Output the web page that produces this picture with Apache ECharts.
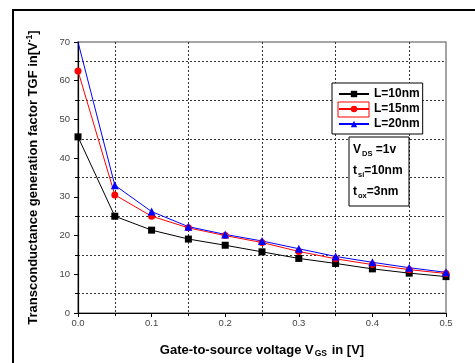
<!DOCTYPE html>
<html><head><meta charset="utf-8">
<script src="https://cdn.jsdelivr.net/npm/echarts@6/dist/echarts.min.js"></script>
<style>html,body{margin:0;padding:0;background:#fff;overflow:hidden}#c{width:475px;height:363px}</style>
</head><body><div id="c"></div>
<script>
const vgs = [0.0, 0.05, 0.1, 0.15, 0.2, 0.25, 0.3, 0.35, 0.4, 0.45, 0.5];
const tgf10 = [45.5, 25.0, 21.4, 19.1, 17.5, 15.8, 14.1, 12.8, 11.4, 10.3, 9.4];
const tgf15 = [62.5, 30.5, 25.0, 22.0, 20.0, 18.2, 15.9, 14.0, 12.5, 11.2, 10.2];
const tgf20 = [70.0, 33.0, 26.2, 22.3, 20.3, 18.6, 16.6, 14.6, 13.1, 11.7, 10.5];
const seriesNames = ['L=10nm', 'L=15nm', 'L=20nm'];

const F = 'Liberation Sans, Arial, sans-serif';
const chart = echarts.init(document.getElementById('c'));
const pair = arr => vgs.map((x, i) => (x === 0 && arr[i] >= 70) ? { value: [x, arr[i]], symbol: 'none' } : [x, arr[i]]);
const mk = (name, data, color, symbol, size) => ({
  name, type: 'line', data: pair(data), symbol, symbolSize: size,
  lineStyle: { color, width: 1 }, itemStyle: { color }, z: 3
});
chart.setOption({
  animation: false,
  grid: { left: 78, right: 29, top: 42, bottom: 50, show: true, borderColor: '#888', borderWidth: 1.5 },
  xAxis: {
    type: 'value', min: 0, max: 0.5, interval: 0.1,
    name: '{b|Gate-to-source voltage V}{s|GS}{b| in [V]}',
    nameLocation: 'middle', nameGap: 29,
    nameTextStyle: { rich: {
      b: { fontFamily: F, fontWeight: 'bold', fontSize: 13, color: '#000' },
      s: { fontFamily: F, fontWeight: 'bold', fontSize: 8.5, color: '#000', padding: [7, 1, 0, 1] }
    } },
    axisLine: { show: true, lineStyle: { color: '#000', width: 1.2 } },
    axisTick: { show: true, inside: false, length: 4, lineStyle: { color: '#000' } },
    minorTick: { show: true, splitNumber: 2, length: 3, lineStyle: { color: '#000' } },
    splitLine: { show: false },
    minorSplitLine: { show: true, lineStyle: { color: '#333', type: [2, 2], width: 1 } },
    axisLabel: { fontFamily: F, fontSize: 9.5, color: '#444', margin: 5, formatter: v => v.toFixed(1) }
  },
  yAxis: {
    type: 'value', min: 0, max: 70, interval: 10,
    name: '{b|Transconductance generation factor TGF in[V}{s|-1}{b|]}',
    nameLocation: 'middle', nameGap: 37, nameRotate: 90,
    nameTextStyle: { rich: {
      b: { fontFamily: F, fontWeight: 'bold', fontSize: 13, color: '#000' },
      s: { fontFamily: F, fontWeight: 'bold', fontSize: 8.5, color: '#000', padding: [0, 0, 7, 0] }
    } },
    axisLine: { show: true, lineStyle: { color: '#000', width: 1.2 } },
    axisTick: { show: true, inside: false, length: 4, lineStyle: { color: '#000' } },
    minorTick: { show: true, splitNumber: 2, length: 3, lineStyle: { color: '#000' } },
    splitLine: { show: false },
    minorSplitLine: { show: true, lineStyle: { color: '#333', type: [2, 2], width: 1 } },
    axisLabel: { fontFamily: F, fontSize: 9.5, color: '#444', margin: 8 }
  },
  legend: {
    left: 332, top: 83, orient: 'vertical', itemWidth: 30, itemHeight: 8, itemGap: 1,
    padding: [4, 3, 3, 6], borderColor: '#000', borderWidth: 1, backgroundColor: '#fff',
    textStyle: { fontFamily: F, fontWeight: 'bold', fontSize: 12, lineHeight: 14, color: '#000' },
    data: seriesNames
  },
  series: [
    mk(seriesNames[0], tgf10, '#000', 'rect', 7),
    mk(seriesNames[1], tgf15, '#ff0000', 'circle', 7),
    mk(seriesNames[2], tgf20, '#0000ff', 'triangle', 8)
  ],
  graphic: [
    { type: 'polyline', shape: { points: [[13, 400], [13, 10], [480, 10]] }, style: { fill: 'none', stroke: '#000', lineWidth: 2 }, silent: true },
    { type: 'rect', shape: { x: 338, y: 102, width: 31, height: 15 }, style: { fill: 'none', stroke: '#ff0000', lineWidth: 1 }, z: 100 },
    { type: 'rect', shape: { x: 349, y: 137, width: 60, height: 69 }, style: { fill: '#fff', stroke: '#000', lineWidth: 1 }, z: 100 },
    { type: 'text', left: 353, top: 142, z: 101, style: {
      text: '{b|V}{s|DS}{b| =1v}\n{b|t}{s|si}{b|=10nm}\n{b|t}{s|ox}{b|=3nm}',
      rich: {
        b: { fontFamily: F, fontWeight: 'bold', fontSize: 12, color: '#000', lineHeight: 21 },
        s: { fontFamily: F, fontWeight: 'bold', fontSize: 7.5, color: '#000', lineHeight: 21, padding: [8, 0, 0, 1] }
      }
    } }
  ]
});
</script></body></html>
